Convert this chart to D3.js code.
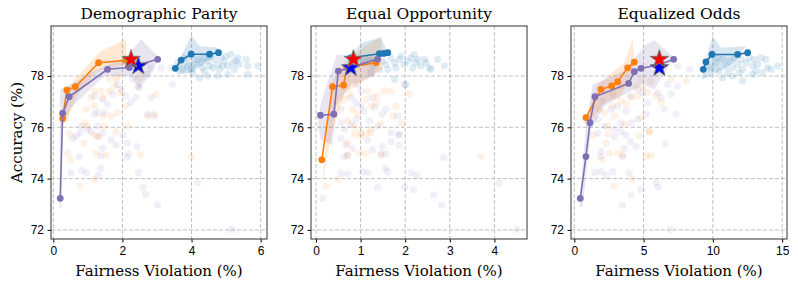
<!DOCTYPE html>
<html>
<head>
<meta charset="utf-8">
<script src="https://cdn.jsdelivr.net/npm/d3@7"></script>
<style>
  body { margin: 0; background: #fff; }
  svg { display: block; font-family: "DejaVu Serif", serif; }
  .grid line { stroke: #b0b0b0; stroke-width: 0.8; stroke-dasharray: 4,2; }
  .tick text { fill: #000; font-size: 12px; }
</style>
</head>
<body>
<svg width="798" height="286"></svg>
<script>
// series colors
const colPurple = '#7f70b4', colOrange = '#ff7f0e', colBlue = '#1f77b4'

const titles = ['Demographic Parity', 'Equal Opportunity', 'Equalized Odds']
const xTicks = [[0, 2, 4, 6], [0, 1, 2, 3, 4], [0, 5, 10, 15]]
const xLims = [[-0.067, 6.184], [-0.112, 4.731], [-0.238, 15.35]]
const yTicks = [72, 74, 76, 78]
const yLim = [71.645, 79.949]

/* ---- Demographic Parity ---- */
const dpPurpleLine = [[0.20,73.23],[0.27,76.55],[0.46,77.19],[1.57,78.26],[2.20,78.33],[3.02,78.65]]
const dpOrangeLine = [[0.27,76.34],[0.39,77.45],[0.64,77.58],[1.31,78.52],[2.10,78.61]]
const dpBlueLine = [[3.53,78.30],[3.70,78.62],[3.99,78.85],[4.52,78.85],[4.78,78.91]]
const dpRedStar = [2.25,78.65]
const dpBlueStar = [2.46,78.39]
const dpPurpleHull = [[0.18,72.84],[0.20,77.48],[0.61,77.74],[1.19,78.19],[2.15,78.78],[2.54,79.43],[3.07,78.71],[2.83,78.13],[2.49,77.48],[2.25,78.00],[1.48,78.00],[0.51,76.77],[0.27,76.05],[0.23,72.84]]
const dpOrangeHull = [[0.27,76.25],[0.37,77.48],[1.19,78.71],[1.38,78.97],[2.10,79.43],[2.13,78.45],[1.28,78.19],[0.71,77.29],[0.37,76.18]]
const dpBlueHull = [[3.52,78.23],[3.99,79.59],[4.23,79.17],[4.81,79.10],[4.56,78.65],[3.99,78.13],[3.60,78.06]]
const dpPurpleDots = [[0.56,75.57],[0.66,75.66],[0.78,75.79],[1.09,75.83],[1.43,75.79],[1.28,75.64],[1.67,75.50],[1.81,75.31],[2.01,75.70],[2.15,75.38],[2.42,75.25],[1.43,75.18],[1.38,74.88],[2.17,74.96],[2.13,74.83],[0.75,74.86],[0.51,74.23],[0.82,74.31],[0.96,74.24],[1.38,74.40],[1.30,74.14],[2.46,74.23],[2.59,73.66],[2.68,73.39],[3.02,72.98],[4.18,73.84],[5.17,72.02],
  [1.19,77.22],[1.43,77.09],[1.57,76.90],[1.72,77.29],[1.86,77.67],[1.96,77.48],[2.10,77.22],[2.39,77.16],[2.25,76.96],[2.30,77.87],[2.73,78.06],[2.83,78.32],[2.44,77.61],[2.49,77.54],[2.83,77.16],[3.12,78.32],[3.41,78.32],[2.92,76.44],[2.73,76.51],[1.19,76.51],[1.28,76.57],[1.48,76.57],[0.80,76.05],[0.99,75.92],[1.28,76.05],[3.45,77.67]]
const dpOrangeDots = [[0.46,75.74],[0.88,75.38],[1.19,75.70],[1.33,75.64],[1.81,75.83],[0.42,74.99],[0.51,74.73],[1.24,74.99],[1.53,74.92],[2.52,74.95],[3.99,74.86],[1.19,73.97],[0.77,73.71],
  [1.19,77.41],[1.38,77.41],[1.43,77.16],[1.62,77.41],[1.62,77.87],[1.81,77.87],[1.86,78.00],[1.77,77.61],[1.96,77.35],[2.10,76.83],[1.86,76.57],[1.67,76.44],[1.43,76.44],[1.19,76.83],[1.09,77.16],[0.95,76.70],[0.90,76.18],[0.99,76.05],[1.48,76.05],[2.15,76.05],[2.73,76.44],[2.92,76.51],[2.97,77.29],[2.49,77.87],[2.54,78.13]]
const dpBlueDots = [[3.74,78.26],[3.89,78.39],[4.08,78.45],[4.18,78.65],[4.27,78.52],[4.32,78.32],[4.37,78.71],[4.47,78.58],[4.52,78.39],[4.56,78.78],[4.66,78.65],[4.76,78.45],[4.81,78.26],[4.85,78.71],[4.95,78.58],[5.00,78.78],[5.05,78.39],[5.14,78.84],[5.19,78.52],[5.24,78.26],[5.34,78.71],[5.38,78.45],[5.58,78.65],[5.63,78.39],[5.92,78.39],[4.23,77.93],[4.47,78.00],[4.76,78.00],[5.05,78.06],[5.63,78.06],[4.03,78.13],[3.60,78.52],[3.79,78.71],[3.99,78.26],[4.37,78.19],[4.61,78.32],[4.90,78.39],[5.29,78.58]]

/* ---- Equal Opportunity ---- */
const eopPurpleLine = [[0.10,76.47],[0.40,76.51],[0.50,78.19],[0.75,78.32],[1.38,78.65]]
const eopOrangeLine = [[0.13,74.73],[0.37,77.58],[0.62,77.64],[0.69,78.33],[1.35,78.52]]
const eopBlueLine = [[0.78,78.71],[1.42,78.87],[1.52,78.88],[1.61,78.91]]
const eopRedStar = [0.84,78.65]
const eopBlueStar = [0.78,78.32]
const eopPurpleHull = [[0.04,76.05],[0.11,76.96],[0.47,78.84],[0.93,78.78],[1.42,78.65],[1.31,78.00],[0.79,77.67],[0.45,76.83],[0.37,75.31],[0.11,75.50]]
const eopOrangeHull = [[0.10,73.49],[0.19,74.66],[0.34,77.74],[0.64,78.52],[1.01,79.04],[1.46,79.56],[1.49,78.26],[1.01,77.74],[0.64,77.35],[0.34,75.66]]
const eopBlueHull = [[0.78,78.78],[1.01,79.30],[1.46,79.49],[1.61,78.91],[1.08,78.39]]
const eopPurpleDots = [[0.56,76.70],[0.79,77.16],[0.90,76.96],[1.01,76.83],[1.08,76.63],[1.27,77.16],[1.31,76.77],[1.49,76.51],[1.57,76.70],[1.83,76.44],[1.98,77.67],[1.01,77.41],[0.93,77.67],[0.79,76.12],[0.64,75.92],[0.90,76.31],[1.20,76.25],[1.38,76.05],[1.68,75.79],[1.87,75.73],[0.56,76.18],
  [0.56,75.57],[0.67,75.31],[0.82,75.18],[1.16,75.50],[1.49,75.25],[1.68,75.44],[1.85,75.70],[1.87,75.31],[0.64,74.86],[0.71,74.92],[1.27,75.12],[1.46,74.92],[1.57,74.96],[1.55,74.40],[1.61,74.27],[1.05,74.27],[1.17,74.23],[0.56,74.20],[0.71,74.18],[1.38,73.66],[1.99,73.66],[2.13,74.23],[2.26,74.14],[2.19,73.58],[2.64,73.36],[2.82,72.97],[2.86,74.83],[4.11,73.82],[4.51,72.02],[0.15,73.23]]
const eopOrangeDots = [[0.64,77.09],[0.75,77.29],[0.82,76.70],[0.93,76.51],[1.16,77.41],[1.12,77.09],[1.23,76.83],[1.35,76.96],[1.38,77.22],[1.53,77.41],[1.68,77.41],[1.79,76.83],[1.72,76.44],[1.91,76.18],[2.09,77.29],[0.86,76.05],[1.01,75.79],[1.23,75.92],[0.71,76.25],[1.46,76.12],
  [0.86,75.74],[1.01,75.66],[1.12,75.74],[1.23,75.79],[0.71,75.38],[0.97,74.99],[1.12,74.99],[1.46,74.96],[0.71,74.92],[0.49,73.97],[0.22,73.71],[3.70,74.86]]
const eopBlueDots = [[1.08,78.52],[1.20,78.71],[1.27,78.39],[1.35,78.65],[1.42,78.26],[1.49,78.58],[1.57,78.45],[1.68,78.71],[1.76,78.52],[1.79,78.32],[1.87,78.65],[1.91,78.78],[1.98,78.45],[2.06,78.58],[2.13,78.71],[2.17,78.32],[2.24,78.52],[2.28,78.65],[2.35,78.39],[2.47,78.52],[2.54,78.32],[2.58,78.26],[2.73,78.65],[2.88,78.39],[1.76,77.87],[2.02,77.67],[1.61,78.26],[1.23,78.13],[2.20,78.84],[2.43,78.65]]

/* ---- Equalized Odds ---- */
const eoPurpleLine = [[0.43,73.23],[0.84,74.86],[1.13,76.18],[1.49,77.19],[3.92,77.71],[4.33,78.17],[4.81,78.30],[6.01,78.42],[7.17,78.65]]
const eoOrangeLine = [[0.84,76.38],[1.93,77.48],[2.70,77.61],[3.13,77.78],[3.85,78.32],[4.33,78.54]]
const eoBlueLine = [[9.31,78.26],[9.50,78.55],[9.94,78.84],[11.79,78.84],[12.51,78.91]]
const eoRedStar = [6.14,78.65]
const eoBlueStar = [6.14,78.32]
const eoPurpleHull = [[0.36,72.90],[0.84,76.05],[1.33,77.67],[3.61,78.19],[5.05,79.17],[5.77,79.40],[7.22,78.71],[5.77,77.48],[4.93,77.67],[3.85,77.35],[2.17,76.83],[1.20,75.92],[0.60,72.90]]
const eoOrangeHull = [[0.72,76.18],[1.69,77.67],[3.61,78.52],[4.21,79.43],[4.33,78.65],[4.09,78.00],[3.37,77.22],[2.17,76.96],[0.96,76.05]]
const eoBlueHull = [[9.20,77.85],[9.26,78.19],[9.98,79.56],[10.58,79.10],[12.39,79.17],[11.55,78.52],[9.86,78.00]]
const eoPurpleDots = [[2.05,77.03],[2.65,76.70],[3.13,76.83],[3.73,76.63],[4.09,77.22],[4.57,77.48],[4.93,77.35],[5.29,76.96],[6.01,77.35],[6.74,77.67],[6.98,77.29],[7.46,77.61],[7.34,76.51],[6.50,76.70],[6.26,77.16],[5.17,76.51],[4.57,76.31],[4.09,76.18],[3.37,76.18],[2.17,76.05],[2.89,75.92],[1.69,76.31],[7.46,78.39],[8.30,78.26],
  [1.69,75.77],[2.89,75.64],[3.37,75.83],[3.73,75.70],[4.09,75.44],[4.45,75.25],[3.61,75.18],[3.49,74.86],[1.93,75.05],[1.88,74.86],[6.57,75.35],[1.49,74.23],[1.93,74.27],[2.29,74.14],[2.77,74.27],[3.97,74.21],[5.89,73.84],[6.06,73.66],[4.81,73.58],[4.09,73.36],[3.49,72.97],[6.93,72.02]]
const eoOrangeDots = [[2.17,76.57],[2.77,76.83],[3.37,77.03],[3.73,76.90],[4.45,77.61],[4.57,77.22],[4.93,77.54],[4.81,77.87],[5.29,77.35],[5.89,77.22],[6.26,76.96],[5.53,77.80],[8.06,77.80],[6.98,77.87],[2.89,76.44],[3.61,76.12],[4.81,76.38],[5.41,75.85],[4.09,77.16],[2.41,76.05],[1.81,76.70],[2.77,77.29],[3.37,77.61],
  [2.41,75.74],[5.41,75.83],[4.69,75.66],[2.29,75.38],[2.53,74.99],[3.13,74.99],[3.49,74.92],[5.17,74.86],[5.53,74.92],[2.05,74.73],[4.21,73.97],[2.84,73.71],[1.33,75.70]]
const eoBlueDots = [[9.86,78.32],[10.22,78.52],[10.46,78.19],[10.70,78.65],[10.95,78.39],[11.19,78.58],[11.43,78.32],[11.55,78.71],[11.79,78.45],[12.03,78.65],[12.15,78.26],[12.39,78.52],[12.63,78.71],[12.87,78.39],[12.99,78.65],[13.23,78.45],[13.47,78.71],[13.59,78.13],[13.83,78.65],[13.95,78.32],[14.67,78.39],[10.70,77.93],[11.43,78.00],[12.15,77.80],[12.87,78.06],[11.07,78.13],[10.34,78.71],[11.91,78.13],[13.11,78.19],[14.19,78.26]]

const panels = [
  {left: 51, dots: [[dpPurpleDots, colPurple, 0.11], [dpOrangeDots, colOrange, 0.11], [dpBlueDots, colBlue, 0.14]],
   hulls: [[dpOrangeHull, colOrange], [dpPurpleHull, colPurple], [dpBlueHull, colBlue]],
   lines: [[dpBlueLine, colBlue], [dpOrangeLine, colOrange], [dpPurpleLine, colPurple]],
   stars: [dpBlueStar, dpRedStar]},
  {left: 311, dots: [[eopPurpleDots, colPurple, 0.11], [eopOrangeDots, colOrange, 0.11], [eopBlueDots, colBlue, 0.14]],
   hulls: [[eopOrangeHull, colOrange], [eopPurpleHull, colPurple], [eopBlueHull, colBlue]],
   lines: [[eopBlueLine, colBlue], [eopOrangeLine, colOrange], [eopPurpleLine, colPurple]],
   stars: [eopBlueStar, eopRedStar]},
  {left: 571, dots: [[eoPurpleDots, colPurple, 0.11], [eoOrangeDots, colOrange, 0.11], [eoBlueDots, colBlue, 0.14]],
   hulls: [[eoOrangeHull, colOrange], [eoPurpleHull, colPurple], [eoBlueHull, colBlue]],
   lines: [[eoBlueLine, colBlue], [eoOrangeLine, colOrange], [eoPurpleLine, colPurple]],
   stars: [eoBlueStar, eoRedStar]}
]

const width = 216, plotTop = 26, plotBottom = 239
const svg = d3.select('svg')

const starPath = d3.symbol().type(d3.symbolStar).size(105)

svg.append('text')
  .attr('transform', `translate(18,${(plotTop+plotBottom)/2}) rotate(-90)`)
  .attr('text-anchor', 'middle')
  .attr('dominant-baseline', 'middle')
  .style('font-size', '15px')
  .text('Accuracy (%)')

panels.forEach((p, i) => {
  const x = d3.scaleLinear().domain(xLims[i]).range([p.left, p.left + width])
  const y = d3.scaleLinear().domain(yLim).range([plotBottom, plotTop])
  const g = svg.append('g')

  g.append('clipPath').attr('id', 'clip' + i)
    .append('rect').attr('x', p.left).attr('y', plotTop).attr('width', width).attr('height', plotBottom - plotTop)

  /* grid */
  const grid = g.append('g').classed('grid', true)
  grid.selectAll('.vx').data(xTicks[i]).enter().append('line')
    .attr('x1', d => x(d)).attr('x2', d => x(d)).attr('y1', plotTop).attr('y2', plotBottom)
  grid.selectAll('.hy').data(yTicks).enter().append('line')
    .attr('y1', d => y(d)).attr('y2', d => y(d)).attr('x1', p.left).attr('x2', p.left + width)

  const plot = g.append('g').attr('clip-path', `url(#clip${i})`)

  /* faint scatter */
  p.dots.forEach(([pts, col, a]) => {
    plot.append('g').selectAll('circle').data(pts).enter().append('circle')
      .attr('cx', d => x(d[0])).attr('cy', d => y(d[1])).attr('r', 3.6)
      .attr('fill', col).attr('fill-opacity', a)
  })

  /* shaded regions */
  const hullLine = d3.line().x(d => x(d[0])).y(d => y(d[1])).curve(d3.curveLinearClosed)
  p.hulls.forEach(([pts, col]) => {
    plot.append('path').attr('d', hullLine(pts)).attr('fill', col).attr('fill-opacity', 0.18)
  })

  /* frontier lines */
  const line = d3.line().x(d => x(d[0])).y(d => y(d[1]))
  p.lines.forEach(([pts, col]) => {
    const lg = plot.append('g')
    lg.append('path').attr('d', line(pts)).attr('fill', 'none').attr('stroke', col).attr('stroke-width', 1.6)
    lg.selectAll('circle').data(pts).enter().append('circle')
      .attr('cx', d => x(d[0])).attr('cy', d => y(d[1])).attr('r', 3.4).attr('fill', col)
  })

  /* stars */
  plot.selectAll('.star').data(p.stars).enter().append('path')
    .attr('d', starPath)
    .attr('transform', d => `translate(${x(d[0])},${y(d[1])})`)
    .attr('fill', (d, k) => k == 0 ? '#0000ff' : '#ff0000')
    .attr('stroke', '#777').attr('stroke-width', 1)

  /* axes */
  g.append('g').attr('transform', `translate(0,${plotBottom})`)
    .call(d3.axisBottom(x).tickValues(xTicks[i]).tickFormat(d3.format('d')).tickSizeOuter(0).tickSize(3.5).tickPadding(4))
    .call(a => a.select('.domain').remove())
  g.append('g').attr('transform', `translate(${p.left},0)`)
    .call(d3.axisLeft(y).tickValues(yTicks).tickFormat(d3.format('d')).tickSizeOuter(0).tickSize(3.5).tickPadding(3.5))
    .call(a => a.select('.domain').remove())

  g.append('rect').attr('x', p.left).attr('y', plotTop).attr('width', width).attr('height', plotBottom - plotTop)
    .attr('fill', 'none').attr('stroke', '#333').attr('stroke-width', 1)

  g.append('text').attr('x', p.left + width / 2).attr('y', 19)
    .attr('text-anchor', 'middle').style('font-size', '15.5px').text(titles[i])
  g.append('text').attr('x', p.left + width / 2).attr('y', 276)
    .attr('text-anchor', 'middle').style('font-size', '15px').text('Fairness Violation (%)')
})
</script>
</body>
</html>
